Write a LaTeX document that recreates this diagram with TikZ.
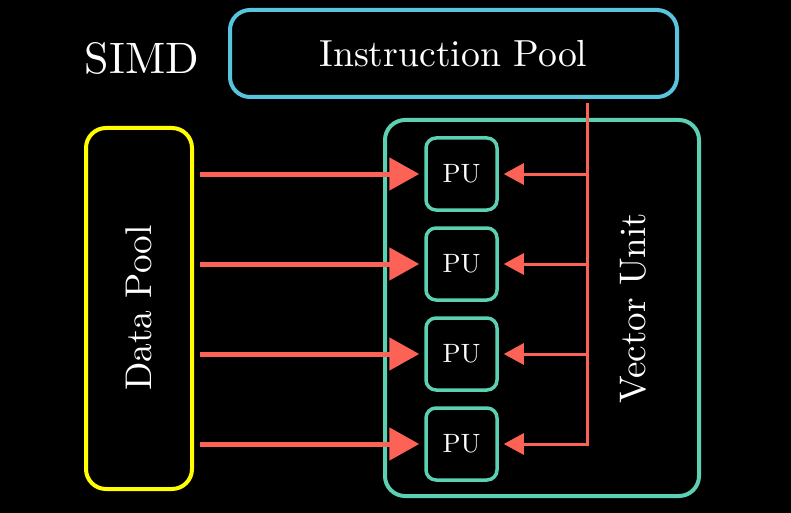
\documentclass[tikz,border=0pt]{standalone}
\usetikzlibrary{arrows.meta}
\definecolor{mblue}{HTML}{58C4DD}
\definecolor{myellow}{HTML}{FFFF00}
\definecolor{mteal}{HTML}{5CD0B3}
\definecolor{mred}{HTML}{FC6255}
\begin{document}
\begin{tikzpicture}[x=1pt,y=-1pt,
  box/.style={draw, line width=4pt, rounded corners=20pt, inner sep=0pt},
  pubox/.style={draw=mteal, line width=3.5pt, rounded corners=10pt, minimum width=71pt, minimum height=72pt, inner sep=0pt, text=white},
  txt/.style={text=white, inner sep=0pt},
  bigarrow/.style={draw=mred, line width=5pt, shorten >=5pt, -{Triangle[length=30pt,width=32pt]}},
  smallarrow/.style={draw=mred, line width=3pt, shorten >=5pt, line join=miter, -{Triangle[length=20pt,width=21pt]}}]
\fill[black] (0,0) rectangle (791,513);
\useasboundingbox (0,0) rectangle (791,513);
\node[txt] (simd) at (142,58) {\scalebox{4.4}{SIMD}};
\node[box, draw=mblue, minimum width=447pt, minimum height=87pt, txt] (ip) at (453.5,53.5) {\scalebox{3.77}{Instruction Pool}};
\node[box, draw=myellow, minimum width=106pt, minimum height=361pt] (dp) at (139,308.5) {};
\node[txt, rotate=90] (dptext) at (139,308) {\scalebox{3.72}{Data Pool}};
\node[box, draw=mteal, minimum width=314pt, minimum height=376pt] (vu) at (542,308) {};
\node[txt, rotate=90] (vutext) at (633,308) {\scalebox{3.7}{Vector Unit}};
\foreach \i/\y in {1/174,2/264,3/354,4/444} {
  \node[pubox] (pu\i) at (461.5,\y) {\scalebox{2.65}{PU}};
  \path (dp.east |- pu\i) ++(6,0) coordinate (d\i);
  \draw[bigarrow] (d\i) -- (pu\i.west);
}
\coordinate (bt) at (587,103);
\foreach \i in {1,2,3,4} {\coordinate (b\i) at (bt |- pu\i);}
\draw[smallarrow] (bt) -- (b4) -- (pu4.east);
\foreach \i in {1,2,3} {\draw[smallarrow] (b\i) -- (pu\i.east);}
\end{tikzpicture}
\end{document}
